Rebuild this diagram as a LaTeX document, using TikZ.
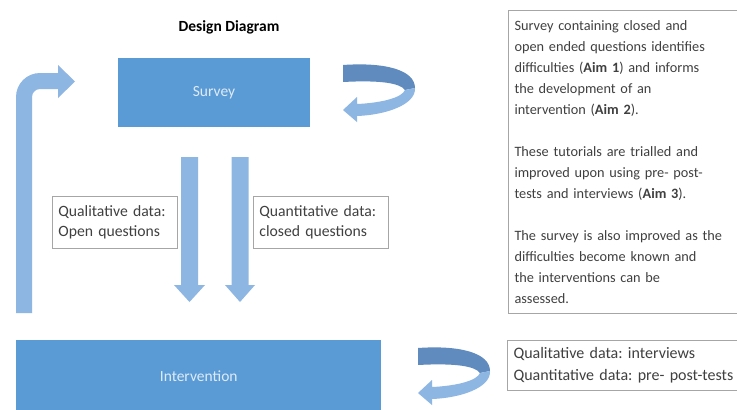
\documentclass[tikz,border=0pt]{standalone}
\usepackage{fontspec}
\setmainfont{Carlito}
\frenchspacing
\definecolor{boxblue}{HTML}{5B9BD5}
\definecolor{arrowblue}{HTML}{8EB6E3}
\definecolor{arrowdark}{HTML}{5F8BBE}
\definecolor{bordergray}{HTML}{A6A6A6}
\definecolor{textgray}{HTML}{404040}
\begin{document}
\begin{tikzpicture}[x=1pt,y=-1pt,
  bluebox/.style={fill=boxblue, draw=none, text=white!80!boxblue, font=\fontsize{15.5}{18}\selectfont, inner sep=0pt},
  labelbox/.style={draw=bordergray, line width=0.8pt, fill=white, text=textgray, align=left,
    font=\fontsize{15.7}{20}\selectfont, inner xsep=6pt, inner ysep=0pt, anchor=north west},
  notebox/.style={draw=bordergray, line width=1pt, fill=white, text=textgray, align=left,
    font=\fontsize{14.3}{21}\selectfont, inner xsep=6pt, inner ysep=0pt, anchor=north west},
  blockarrow/.style={fill=arrowblue, draw=none},
  curvedarrow/.pic={
    \fill[arrowdark] (0,0) .. controls (42,-3) and (72,5) .. (72,23) -- (62,25)
      .. controls (57,18) and (37,15) .. (0,17) -- cycle;
    \fill[arrowblue] (72,23) .. controls (73,40) and (42,50) .. (14,51) -- (14,57) -- (0,45)
      -- (14,32) -- (14,39) .. controls (37,38) and (59,33) .. (62,25) -- cycle;
  }]
\useasboundingbox (0,0) rectangle (737,410);
\fill[white] (0,0) rectangle (737,410);

\node[font=\bfseries\fontsize{15.5}{18}\selectfont] (title) at (229,27) {Design Diagram};

\node[bluebox, minimum width=192pt, minimum height=69pt] (survey) at (214,92.5) {Survey};
\node[bluebox, minimum width=365pt, minimum height=72pt, anchor=north west] (interv) at (16,340) {Intervention};

% down arrows
\fill[blockarrow] (181,157) -- (198,157) -- (198,285) -- (205,285) -- (189.5,302) -- (174,285) -- (181,285) -- cycle;
\fill[blockarrow] (231.5,157) -- (248.5,157) -- (248.5,285) -- (255,285) -- (240,302) -- (225,285) -- (231.5,285) -- cycle;

% bent-up arrow
\fill[blockarrow] (16,313) -- (16,97) .. controls (16,83.75) and (26.75,73) .. (40,73) -- (58,73) -- (58,65)
  -- (75,81.5) -- (58,98) -- (58,89) -- (40,89) .. controls (35.6,89) and (32,92.6) .. (32,97) -- (32,313) -- cycle;

% curved arrows
\pic at (343,65) {curvedarrow};
\pic at (418,348) {curvedarrow};

% labels
\node[labelbox, text width=113pt, minimum height=52pt] (qual) at (52,196) {Qualitative data:\\Open questions};
\node[labelbox, text width=123pt, minimum height=52pt] (quant) at (253,196) {Quantitative data:\\closed questions};

\node[notebox, text width=228pt, minimum height=303pt] (notes) at (508,10) {Survey containing closed and\\
open ended questions identifies\\
difficulties (\textbf{Aim 1}) and informs\\
the development of an\\
intervention (\textbf{Aim 2}).\\[21pt]
These tutorials are trialled and\\
improved upon using pre- post-\\
tests and interviews (\textbf{Aim 3}).\\[21pt]
The survey is also improved as the\\
difficulties become known and\\
the interventions can be\\
assessed.};

\node[notebox, font=\fontsize{16}{22}\selectfont, text width=228pt, minimum height=50pt] (data) at (507,340) {Qualitative data: interviews\\Quantitative data: pre- post-tests};
\end{tikzpicture}
\end{document}
